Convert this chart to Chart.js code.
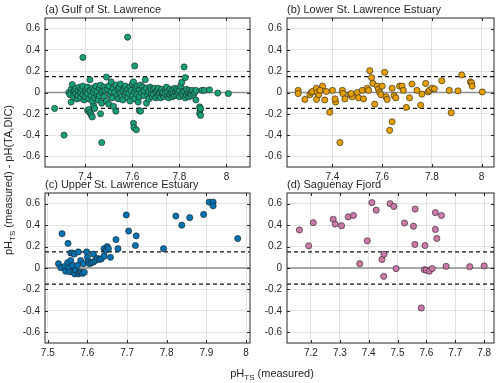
<!DOCTYPE html>
<html>
<head>
<meta charset="utf-8">
<script src="https://cdn.jsdelivr.net/npm/chart.js@4.4.1/dist/chart.umd.min.js"></script>
<style>
body { margin: 0; background: #fff; }
#wrap { position: relative; width: 500px; height: 383px; font-family: 'Liberation Sans', Arial, sans-serif; color: #262626; }
.panel { position: absolute; left: 0; top: 0; width: 500px; height: 383px; }
.lbl { position: absolute; font-size: 11px; white-space: nowrap; line-height: 1; }
.lbl sub { font-size: 8px; vertical-align: -3px; }
</style>
</head>
<body>
<div id="wrap">
  <div class="panel"><canvas id="ca"></canvas></div>
  <div class="panel"><canvas id="cb"></canvas></div>
  <div class="panel"><canvas id="cc"></canvas></div>
  <div class="panel"><canvas id="cd"></canvas></div>
  <div class="lbl" style="left:45px;top:4px">(a) Gulf of St. Lawrence</div>
  <div class="lbl" style="left:287px;top:4px">(b) Lower St. Lawrence Estuary</div>
  <div class="lbl" style="left:45px;top:179px">(c) Upper St. Lawrence Estuary</div>
  <div class="lbl" style="left:287px;top:179px">(d) Saguenay Fjord</div>
  <div class="lbl" id="ylab" style="left:10px;top:180px;transform:translate(-50%,-50%) rotate(-90deg)">pH<sub>TS</sub> (measured) - pH(TA,DIC)</div>
  <div class="lbl" style="left:272px;top:368px;transform:translateX(-50%)">pH<sub>TS</sub> (measured)</div>
</div>
<script>
// ---- data: [pH measured, pH measured - pH(TA,DIC)] ----
const gulf = [
  [7.27,-0.15],[7.31,-0.40],[7.39,0.33],[7.47,-0.47],[7.465,-0.20],[7.58,0.52],[7.61,0.25],
  [7.605,-0.29],[7.607,-0.33],[7.617,-0.35],[7.53,-0.175],[7.63,-0.17],[7.635,-0.175],
  [7.886,-0.135],[7.888,-0.165],[7.886,-0.195],[7.89,-0.215],[7.89,-0.15],
  [7.895,0.02],[7.906,0.02],[7.928,0.025],[7.963,-0.005],[8.008,-0.01],
  [7.41,-0.17],[7.415,-0.16],[7.42,-0.19],[7.425,-0.21],[7.43,-0.23],[7.435,-0.12],[7.44,-0.15],
  [7.33,0.0],[7.335,-0.02],[7.34,0.03],[7.34,-0.09],[7.345,0.075],[7.35,0.01],[7.35,-0.04],
  [7.355,0.02],[7.36,-0.01],[7.36,0.04],[7.365,-0.06],[7.37,0.02],[7.37,-0.03],[7.375,0.05],
  [7.38,0.0],[7.38,-0.05],[7.385,0.03],[7.39,-0.02],[7.39,0.06],[7.395,-0.07],[7.40,0.01],[7.40,-0.04],
  [7.405,0.03],[7.41,-0.01],[7.41,0.05],[7.415,-0.06],[7.42,0.12],[7.42,0.02],[7.425,-0.03],
  [7.43,0.04],[7.43,-0.08],[7.435,0.0],[7.44,0.03],[7.44,-0.05],[7.445,0.06],[7.45,-0.02],
  [7.45,0.01],[7.455,-0.07],[7.46,0.04],[7.46,-0.03],[7.465,0.07],[7.47,0.0],[7.47,-0.10],[7.475,0.02],
  [7.48,0.05],[7.48,-0.04],[7.485,0.02],[7.49,0.145],[7.49,-0.08],[7.495,0.03],[7.50,-0.11],
  [7.50,0.06],[7.505,-0.02],[7.51,0.10],[7.51,0.01],[7.515,-0.05],[7.52,0.04],[7.52,-0.13],
  [7.525,0.0],[7.53,0.07],[7.535,-0.03],[7.54,0.03],[7.54,-0.06],[7.545,0.05],[7.55,-0.01],[7.55,0.08],
  [7.555,-0.04],[7.56,0.02],[7.56,-0.07],[7.565,0.04],[7.57,-0.02],[7.57,0.06],[7.575,0.0],
  [7.58,-0.05],[7.58,0.03],[7.585,-0.01],[7.59,0.05],[7.59,-0.08],[7.595,0.02],[7.60,0.08],
  [7.60,-0.03],[7.605,0.10],[7.61,0.01],[7.61,-0.06],[7.615,0.04],[7.62,-0.02],[7.62,0.06],[7.625,-0.09],
  [7.63,0.03],[7.63,-0.04],[7.635,0.07],[7.64,0.0],[7.645,0.05],[7.65,-0.03],[7.65,0.02],
  [7.655,0.12],[7.66,-0.10],[7.66,0.04],[7.665,-0.02],[7.67,0.01],[7.67,-0.06],[7.675,0.05],
  [7.68,-0.01],[7.68,0.03],[7.685,-0.04],[7.69,0.02],[7.69,-0.02],[7.695,0.04],[7.70,0.0],[7.70,-0.05],
  [7.705,0.02],[7.71,-0.03],[7.71,0.04],[7.715,-0.01],[7.72,0.01],[7.72,-0.05],[7.725,0.03],
  [7.73,-0.02],[7.73,0.0],[7.735,-0.04],[7.74,0.02],[7.74,-0.01],[7.745,0.05],[7.75,-0.03],
  [7.75,0.01],[7.755,-0.05],[7.76,0.03],[7.76,-0.02],[7.765,0.0],[7.77,-0.04],[7.77,0.02],[7.775,-0.01],[7.78,0.04],
  [7.78,-0.03],[7.785,0.01],[7.79,-0.02],[7.79,0.03],[7.795,0.0],[7.80,-0.04],[7.80,0.02],
  [7.805,0.06],[7.81,-0.01],[7.81,0.095],[7.815,-0.03],[7.82,0.01],[7.82,0.24],[7.825,0.14],
  [7.825,-0.05],[7.83,0.03],[7.83,-0.02],[7.835,0.0],[7.84,-0.04],[7.84,0.02],[7.845,-0.01],
  [7.85,0.01],[7.85,-0.03],[7.855,0.02],[7.86,-0.02],[7.865,0.0],[7.87,-0.07],[7.87,0.02]
];
const lower = [
  [7.262,0.02],[7.262,-0.01],[7.289,-0.065],[7.309,-0.02],[7.315,0.0],[7.32,0.01],
  [7.335,0.04],[7.338,0.0],[7.336,-0.065],[7.345,-0.02],[7.36,0.06],[7.35,0.02],[7.369,-0.07],
  [7.375,0.01],[7.389,-0.185],[7.40,0.02],[7.413,-0.09],[7.41,-0.06],[7.43,-0.47],
  [7.44,0.02],[7.442,-0.01],[7.45,-0.06],[7.47,-0.02],[7.48,-0.04],[7.475,-0.01],
  [7.50,0.0],[7.505,-0.05],[7.52,0.02],[7.525,-0.06],[7.54,0.04],[7.545,0.02],
  [7.55,0.205],[7.557,0.14],[7.563,0.085],[7.57,-0.11],[7.58,0.06],[7.585,0.03],
  [7.59,0.0],[7.595,-0.02],[7.61,0.19],[7.60,0.06],[7.615,-0.04],[7.62,-0.065],
  [7.63,-0.355],[7.64,-0.275],[7.64,0.04],[7.648,-0.03],[7.655,-0.05],
  [7.67,0.06],[7.68,0.06],[7.685,0.02],[7.697,-0.14],[7.71,-0.05],[7.72,0.08],
  [7.74,0.02],[7.755,-0.12],[7.76,-0.015],[7.775,0.085],[7.785,0.005],[7.79,0.02],
  [7.80,0.04],[7.81,0.035],[7.84,0.11],[7.87,0.02],[7.878,-0.19],[7.905,0.015],
  [7.92,0.165],[7.955,0.10],[7.96,0.09],[7.962,0.06],[8.003,0.005]
];
const upper = [
  [7.527,0.04],[7.533,0.003],[7.536,0.32],[7.543,0.015],[7.545,-0.03],[7.55,0.05],
  [7.552,0.0],[7.555,-0.035],[7.551,0.23],[7.558,0.14],[7.562,0.14],[7.558,0.07],
  [7.563,0.025],[7.565,-0.04],[7.568,-0.055],[7.57,-0.02],[7.567,0.13],[7.575,0.025],
  [7.577,-0.055],[7.58,-0.04],[7.577,0.15],[7.583,0.07],[7.583,-0.04],[7.588,-0.05],
  [7.592,-0.04],[7.59,0.04],[7.598,0.15],[7.60,0.10],[7.602,0.06],[7.605,0.04],
  [7.61,0.05],[7.615,0.055],[7.62,0.07],[7.615,0.13],[7.625,0.09],[7.63,0.08],
  [7.635,0.085],[7.642,0.18],[7.647,0.165],[7.65,0.20],[7.653,0.18],[7.642,0.11],
  [7.658,0.10],[7.672,0.265],[7.677,0.18],[7.698,0.495],[7.704,0.345],[7.721,0.21],
  [7.723,0.30],[7.792,0.18],[7.823,0.485],[7.838,0.40],[7.858,0.47],[7.893,0.50],
  [7.907,0.615],[7.917,0.615],[7.917,0.58],[7.979,0.275]
];
const saguenay = [
  [7.16,0.355],[7.192,0.207],[7.208,0.423],[7.277,0.455],[7.284,0.41],[7.306,0.395],
  [7.329,0.477],[7.347,0.49],[7.369,0.04],[7.395,0.254],[7.411,0.61],[7.426,0.54],
  [7.446,0.08],[7.453,0.128],[7.452,-0.078],[7.474,0.60],[7.487,0.575],[7.495,-0.006],
  [7.524,0.42],[7.555,0.39],[7.561,0.55],[7.56,0.22],[7.595,0.21],[7.582,-0.373],
  [7.593,-0.016],[7.60,-0.02],[7.61,-0.03],[7.62,-0.005],[7.631,0.517],[7.631,0.36],
  [7.636,0.276],[7.652,0.49],[7.668,0.016],[7.75,0.0125],[7.80,0.019]
];

const yTicks = [-0.6, -0.4, -0.2, 0, 0.2, 0.4, 0.6];
const xTicksAB = [7.4, 7.6, 7.8, 8];
const xTicksC = [7.5, 7.6, 7.7, 7.8, 7.9, 8];
const xTicksD = [7.2, 7.3, 7.4, 7.5, 7.6, 7.7, 7.8];
const limit = 0.15;

const FONT = { family: "'Liberation Sans', Arial, sans-serif", size: 10 };
const INK = '#262626';

// box with inward ticks like the original
const boxPlugin = {
  id: 'box',
  afterDraw(chart) {
    const { ctx, chartArea: a, scales } = chart;
    ctx.save();
    ctx.strokeStyle = INK;
    ctx.lineWidth = 1;
    ctx.strokeRect(a.left, a.top, a.right - a.left, a.bottom - a.top);
    ctx.beginPath();
    scales.x.ticks.forEach(t => {
      const px = Math.round(scales.x.getPixelForValue(t.value)) + 0.5;
      ctx.moveTo(px, a.bottom); ctx.lineTo(px, a.bottom - 3);
      ctx.moveTo(px, a.top); ctx.lineTo(px, a.top + 3);
    });
    scales.y.ticks.forEach(t => {
      const py = Math.round(scales.y.getPixelForValue(t.value)) + 0.5;
      ctx.moveTo(a.left, py); ctx.lineTo(a.left + 3, py);
      ctx.moveTo(a.right, py); ctx.lineTo(a.right - 3, py);
    });
    ctx.stroke();
    ctx.restore();
  }
};

function makePanel(id, pts, color, xMin, xMax, xTicks, pad) {
  const hline = (v, col, w, dash) => ({
    type: 'line',
    data: [{ x: xMin, y: v }, { x: xMax, y: v }],
    borderColor: col, borderWidth: w, borderDash: dash,
    pointRadius: 0, fill: false, order: 2
  });
  new Chart(document.getElementById(id), {
    type: 'scatter',
    data: {
      datasets: [
        {
          data: pts.map(p => ({ x: p[0], y: p[1] })),
          backgroundColor: color,
          borderColor: '#1e1e1e',
          borderWidth: 0.6,
          pointRadius: 3.1,
          order: 1
        },
        hline(0, '#8f8f8f', 1.3, []),
        hline(limit, '#111', 1.2, [4, 3]),
        hline(-limit, '#111', 1.2, [4, 3])
      ]
    },
    options: {
      responsive: true,
      maintainAspectRatio: false,
      animation: false,
      events: [],
      layout: { padding: pad },
      plugins: { legend: { display: false }, tooltip: { enabled: false } },
      scales: {
        x: {
          type: 'linear', min: xMin, max: xMax,
          afterBuildTicks: s => { s.ticks = xTicks.map(v => ({ value: v })); },
          afterFit: s => { s.height = 20; },
          ticks: { color: INK, font: FONT, padding: 4, maxRotation: 0, callback: v => String(v) },
          grid: { color: '#e2e2e2', drawTicks: false },
          border: { display: false }
        },
        y: {
          type: 'linear', min: -0.7, max: 0.7,
          afterBuildTicks: s => { s.ticks = yTicks.map(v => ({ value: v })); },
          afterFit: s => { s.width = 30; },
          ticks: { color: INK, font: FONT, padding: 5, callback: v => String(v) },
          grid: { color: '#e2e2e2', drawTicks: false },
          border: { display: false }
        }
      }
    },
    plugins: [boxPlugin]
  });
}

makePanel('ca', gulf, '#17a078', 7.229, 8.10, xTicksAB, { left: 15, top: 18, right: 250, bottom: 196 });
makePanel('cb', lower, '#e69f00', 7.217, 8.05, xTicksAB, { left: 257, top: 18, right: 6, bottom: 196 });
makePanel('cc', upper, '#0072b2', 7.493, 8.01, xTicksC, { left: 15, top: 193, right: 250, bottom: 20 });
makePanel('cd', saguenay, '#cc79a7', 7.117, 7.834, xTicksD, { left: 257, top: 193, right: 6, bottom: 20 });
</script>
</body>
</html>
